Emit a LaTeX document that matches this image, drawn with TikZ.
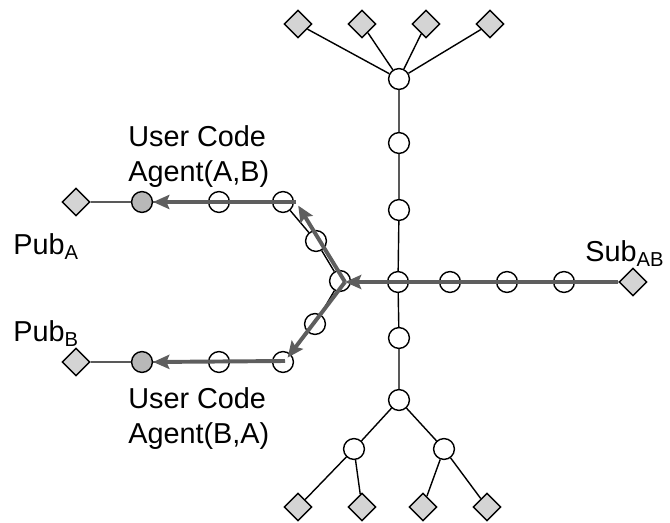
\documentclass[tikz,border=0pt]{standalone}
\usepackage{fontspec}
\setmainfont{Liberation Sans}
\usepackage{xcolor}
\usepackage{tikz}
\usetikzlibrary{shapes.geometric,arrows.meta}
\definecolor{flujo}{HTML}{5E5E5E}
\definecolor{hostgris}{HTML}{D4D4D4}
\definecolor{agentegris}{HTML}{B8B8B8}

\begin{document}
\begin{tikzpicture}[x=0.025cm, y=-0.025cm, font=\fontsize{20.5}{25}\selectfont,
  nodo/.style={circle, draw, fill=white, line width=1pt, minimum size=0.52cm, inner sep=0pt},
  agente/.style={nodo, fill=agentegris},
  host/.style={diamond, draw, fill=hostgris, line width=1pt, minimum width=0.7cm, minimum height=0.7cm, inner sep=0pt},
  enlace/.style={line width=1pt},
  flujo/.style={draw=flujo, line width=2.8pt, -{Stealth[length=11.5pt, width=10pt, inset=2pt]}}]
  \useasboundingbox (0,0) rectangle (670,523);

  % arbol de arriba
  \node[host] (t1) at (298,24) {};
  \node[host] (t2) at (362,24) {};
  \node[host] (t3) at (426,24) {};
  \node[host] (t4) at (490,24) {};
  \node[nodo] (top) at (399,79) {};
  \node[nodo] (v1)  at (399,143) {};
  \node[nodo] (v2)  at (399,210) {};
  \node[nodo] (hub) at (398,282) {};
  \node[nodo] (v3)  at (399,338) {};
  \node[nodo] (bc)  at (399,400) {};
  \node[nodo] (bl)  at (354,449) {};
  \node[nodo] (br)  at (444,449) {};
  \node[host] (s1) at (298,507) {};
  \node[host] (s2) at (362,507) {};
  \node[host] (s3) at (423,507) {};
  \node[host] (s4) at (487,507) {};

  % rama del suscriptor
  \node[nodo] (h1) at (450,282) {};
  \node[nodo] (h2) at (507,282) {};
  \node[nodo] (h3) at (564,282) {};
  \node[host] (sub) at (633,282) {};
  \node[nodo] (j) at (340,281) {};

  % ramas de los publicadores
  \node[nodo] (a3) at (316,241) {};
  \node[nodo] (a2) at (283,202) {};
  \node[nodo] (a1) at (219,202) {};
  \node[agente] (pA) at (142,202) {};
  \node[host] (dA) at (76,202) {};
  \node[nodo] (c3) at (315,324) {};
  \node[nodo] (c2) at (283,362) {};
  \node[nodo] (c1) at (219,362) {};
  \node[agente] (pB) at (142,362) {};
  \node[host] (dB) at (76,362) {};

  \foreach \n in {t1,t2,t3,t4} \draw[enlace] (top) -- (\n);
  \draw[enlace] (top) -- (v1) -- (v2) -- (hub) -- (v3) -- (bc);
  \draw[enlace] (bl) -- (bc) -- (br);
  \draw[enlace] (s1) -- (bl) -- (s2);
  \draw[enlace] (s3) -- (br) -- (s4);
  \draw[enlace] (sub) -- (h3) -- (h2) -- (h1) -- (hub) -- (j);
  \draw[enlace] (j) -- (a3) -- (a2) -- (a1) -- (pA) -- (dA);
  \draw[enlace] (j) -- (c3) -- (c2) -- (c1) -- (pB) -- (dB);

  \coordinate (kj) at (345,282);
  \coordinate (ka) at (296,202);
  \coordinate (kb) at (285,361);
  \draw[flujo] (sub.west) -- (kj);
  \draw[flujo, shorten >=3pt] (kj) -- (ka);
  \draw[flujo] (ka) -- (pA.east);
  \draw[flujo, shorten >=3pt] (kj) -- (kb);
  \draw[flujo] (kb) -- (pB.east);

  \node[anchor=north west, align=left, inner sep=0pt] (ua) at (128,125) {User Code\\Agent(A,B)};
  \node[anchor=north west, align=left, inner sep=0pt] (ub) at (128,387) {User Code\\Agent(B,A)};
  \node[anchor=base west, inner sep=0pt] (lA) at (13,255) {Pub\textsubscript{A}};
  \node[anchor=base west, inner sep=0pt] (lB) at (13,342) {Pub\textsubscript{B}};
  \node[anchor=base west, inner sep=0pt] (lS) at (585,262) {Sub\textsubscript{AB}};
\end{tikzpicture}
\end{document}
